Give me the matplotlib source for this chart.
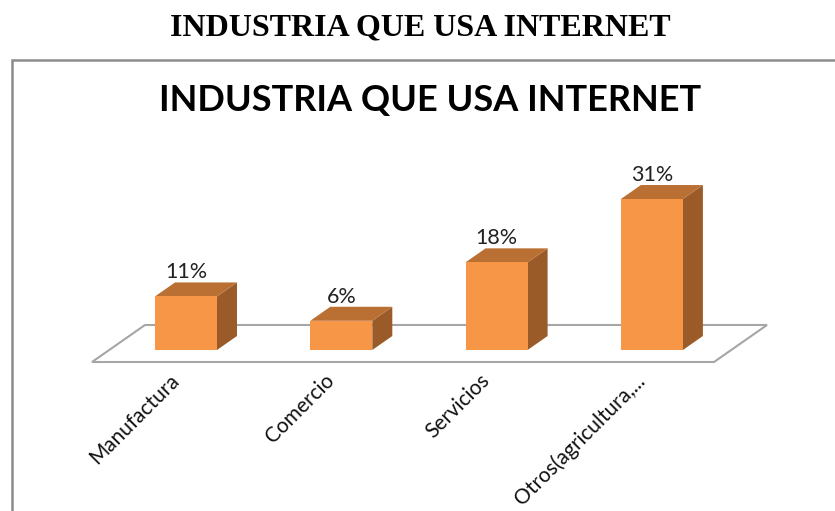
import matplotlib.pyplot as plt
from matplotlib.patches import Polygon, Rectangle

# data
categories = ['Manufactura', 'Comercio', 'Servicios', 'Otros(agricultura,...']
values = [11, 6, 18, 31]
value_labels = ['11%', '6%', '18%', '31%']
title = 'INDUSTRIA QUE USA INTERNET'

# colours
front_col = '#F79646'
top_col = '#BA6F33'
side_col = '#9A5B29'
floor_col = '#A6A6A6'

W, H = 835, 511
fig = plt.figure(figsize=(W / 100, H / 100), dpi=100)

# frame of the chart object (right and bottom edge are cut off in the picture)
fig.patches.append(Rectangle((12 / W, -0.1), 1.2, (H - 60) / H + 0.1, transform=fig.transFigure,
                             fill=False, edgecolor='#8C8C8C', linewidth=1.8))

# outer (document) title
fig.text(420 / W, 1 - 28 / H, title, ha='center', va='center', fontsize=23,
         fontweight='bold', family='Liberation Serif')

# inner chart title
fig.text(430 / W, 1 - 101 / H, title, ha='center', va='center', fontsize=26,
         fontweight='bold', family='Lato')

# axes laid out so category i sits at its bar centre, y in percent
ax = fig.add_axes([0, 0, 1, 1])
px_x = 155.3   # pixels per category step
px_y = 4.87    # pixels per percent
ax.set_xlim(-186 / px_x, (W - 186) / px_x)
ax.set_ylim(-(H - 350) / px_y, 350 / px_y)
ax.axis('off')

bar_w = 62 / px_x
dx, dy = 20 / px_x, 14 / px_y

# floor
fx0, fx1 = -94 / px_x, 528 / px_x
fy0 = -12 / px_y
fdx, fdy = 53 / px_x, 37 / px_y
floor = Polygon([(fx0, fy0), (fx1, fy0), (fx1 + fdx, fy0 + fdy), (fx0 + fdx, fy0 + fdy)],
                closed=True, facecolor='white', edgecolor=floor_col, linewidth=1.5)
ax.add_patch(floor)

for i, (v, lab) in enumerate(zip(values, value_labels)):
    x0, x1 = i - bar_w / 2, i + bar_w / 2
    ax.add_patch(Polygon([(x1, 0), (x1 + dx, dy), (x1 + dx, v + dy), (x1, v)],
                         closed=True, facecolor=side_col, edgecolor='none'))
    ax.add_patch(Polygon([(x0, v), (x1, v), (x1 + dx, v + dy), (x0 + dx, v + dy)],
                         closed=True, facecolor=top_col, edgecolor='none'))
    ax.add_patch(Rectangle((x0, 0), bar_w, v, facecolor=front_col, edgecolor='none'))
    ax.text(i, v + dy, lab, ha='center', va='bottom', fontsize=15.5,
            family='Lato', color='#222222')
    ax.text(i - 17 / px_x, -20 / px_y, categories[i], ha='right', va='top', rotation=45,
            rotation_mode='anchor', fontsize=15, family='Lato', color='#111111')

fig.savefig('out.png', dpi=100)
